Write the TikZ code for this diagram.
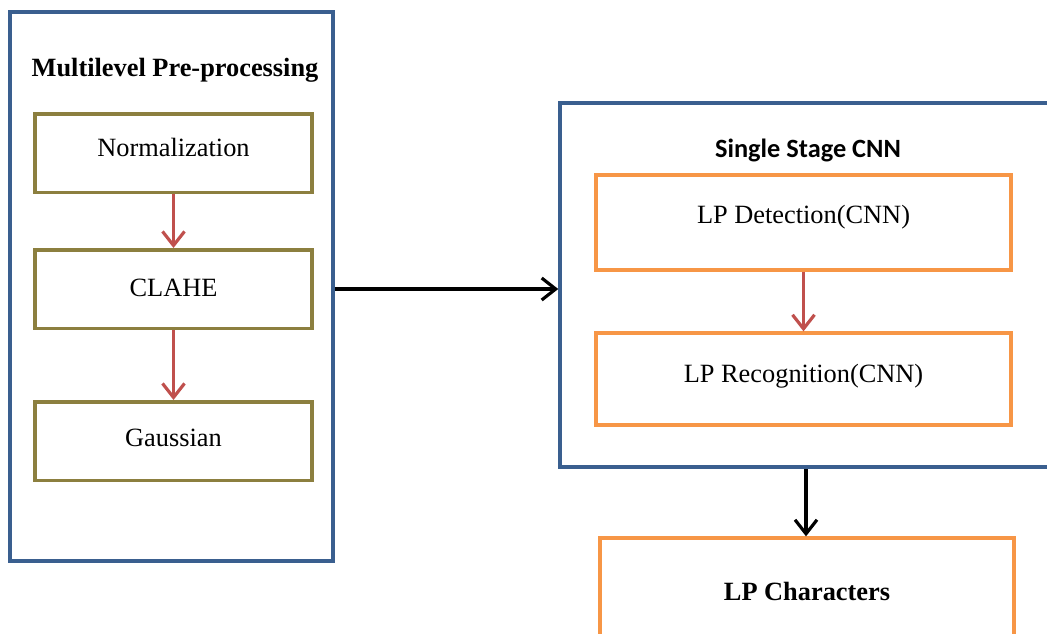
\documentclass[tikz,border=0pt]{standalone}
\usepackage{fontspec}
\setmainfont{Liberation Serif}
\newfontfamily\carlito{Carlito}
\usepackage{xcolor}
\usepackage{tikz}
\usetikzlibrary{arrows.meta,positioning,calc}

\definecolor{frameblue}{HTML}{3A5F8F}
\definecolor{olivebox}{HTML}{8C7F3F}
\definecolor{orangebox}{HTML}{F79646}
\definecolor{redarrow}{HTML}{C0504D}

\begin{document}
\begin{tikzpicture}[
  outer/.style={draw=frameblue, line width=2pt, minimum width=#1},
  pre/.style={draw=olivebox, line width=2pt, minimum width=5.54cm,
    minimum height=1.57cm, font=\fontsize{15}{18}\selectfont},
  cnnbox/.style={draw=orangebox, line width=1.9pt, minimum width=8.3cm,
    font=\fontsize{15}{18}\selectfont},
  arrow/.style={-{Straight Barb[length=2.8mm, width=4.4mm]}, line width=1.8pt},
  redarr/.style={arrow, redarrow}
]
\useasboundingbox (0,0) rectangle (20.94,-12.66);

% containers
\node[outer=6.46cm, minimum height=10.98cm] (prebox) at (3.43,-5.73) {};
\node[outer=9.84cm, minimum height=7.28cm] (cnn) at (16.12,-5.70) {};

\node[font=\fontsize{15}{18}\selectfont\bfseries] (pretitle) at (3.5,-1.4)
  {Multilevel Pre-processing};
\node[font=\carlito\fontsize{15}{18}\selectfont\bfseries] (cnntitle)
  at (16.16,-3.0) {Single Stage CNN};

% pre-processing steps
\foreach \n/\t/\y/\d in {norm/Normalization/-3.06/6pt, clahe/CLAHE/-5.78/1pt,
    gauss/Gaussian/-8.82/4pt} {
  \node[pre, text depth=\d] (\n) at (3.47,\y) {\t};
}
\draw[redarr] (norm.south) -- (clahe.north);
\draw[redarr] (clahe.south) -- (gauss.north);

% CNN stages
\node[cnnbox, minimum height=1.9cm, text depth=9pt] (det) at (16.07,-4.45)
  {LP Detection(CNN)};
\node[cnnbox, minimum height=1.84cm, text depth=6pt] (rec) at (16.07,-7.58)
  {LP Recognition(CNN)};
\draw[redarr] (det.south) -- (rec.north);

\node[cnnbox, minimum width=8.28cm, minimum height=2.14cm,
  font=\fontsize{15}{18}\selectfont\bfseries] (chars) at (16.14,-11.83)
  {LP Characters};

\draw[arrow] (prebox.east |- clahe) -- (cnn.west |- clahe);
\draw[arrow] (cnn.south) -- (cnn.south |- chars.north);

\end{tikzpicture}
\end{document}
